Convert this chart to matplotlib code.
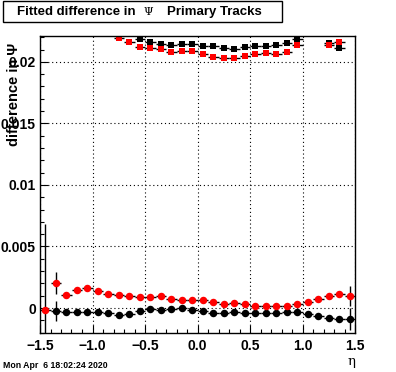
import matplotlib
matplotlib.use("Agg")
import matplotlib.pyplot as plt
import numpy as np
from matplotlib.patches import Rectangle
from matplotlib.ticker import MultipleLocator

# bin centres in eta
eta_all = [-1.45, -1.35, -1.25, -1.15, -1.05, -0.95, -0.85, -0.75, -0.65, -0.55,
           -0.45, -0.35, -0.25, -0.15, -0.05, 0.05, 0.15, 0.25, 0.35, 0.45,
           0.55, 0.65, 0.75, 0.85, 0.95, 1.05, 1.15, 1.25, 1.35, 1.45]

# bottom series (circles)
red_circ = [-0.00015, 0.0020, 0.00105, 0.00146, 0.00165, 0.00138, 0.00114, 0.00105, 0.00097, 0.00087,
            0.00087, 0.0010, 0.0007, 0.00065, 0.00065, 0.00065, 0.00046, 0.00032, 0.00043, 0.00032,
            0.00019, 0.00019, 0.00019, 0.00019, 0.0003, 0.0005, 0.00073, 0.00097, 0.00111, 0.00097]
red_circ_err = [0.007, 0.0009, 0.0001, 0.0001, 0.0001, 0.0001, 0.0001, 0.0001, 0.0001, 0.0001,
                0.0001, 0.0001, 0.0001, 0.0001, 0.0001, 0.0001, 0.0001, 0.0001, 0.0001, 0.0001,
                0.0001, 0.0001, 0.0001, 0.0001, 0.0001, 0.0001, 0.0001, 0.0001, 0.0001, 0.0008]

eta_blk = eta_all[1:]
blk_circ = [-0.00024, -0.0003, -0.00035, -0.00035, -0.0003, -0.00043, -0.00057, -0.00049, -0.00027,
            -0.00008, -0.00016, -0.00008, 0.0, -0.00016, -0.00027, -0.00038, -0.00038, -0.0003,
            -0.00038, -0.00038, -0.00038, -0.00038, -0.0003, -0.0003, -0.00051, -0.00068,
            -0.00084, -0.00092, -0.00092]
blk_circ_err = [0.0008, 0.0001, 0.0001, 0.0001, 0.0001, 0.0001, 0.0001, 0.0001, 0.0001,
                0.0001, 0.0001, 0.0001, 0.0001, 0.0001, 0.0001, 0.0001, 0.0001, 0.0001,
                0.0001, 0.0001, 0.0001, 0.0001, 0.0001, 0.0001, 0.0001, 0.0001,
                0.0001, 0.0001, 0.0009]

# top series (squares)
eta_red_sq = [-0.75, -0.65, -0.55, -0.45, -0.35, -0.25, -0.15, -0.05, 0.05, 0.15,
              0.25, 0.35, 0.45, 0.55, 0.65, 0.75, 0.85, 0.95, 1.25, 1.35]
red_sq = [0.02197, 0.02159, 0.02121, 0.0211, 0.02102, 0.02078, 0.02088, 0.02088, 0.02062, 0.02043,
          0.02033, 0.02032, 0.02048, 0.02067, 0.02072, 0.02064, 0.0208, 0.02137, 0.02135, 0.0216]

eta_blk_sq = [-0.55, -0.45, -0.35, -0.25, -0.15, -0.05, 0.05, 0.15, 0.25,
              0.35, 0.45, 0.55, 0.65, 0.75, 0.85, 0.95, 1.25, 1.35]
blk_sq = [0.02189, 0.0216, 0.02148, 0.02137, 0.02145, 0.02145, 0.0213, 0.0213, 0.02116,
          0.02105, 0.02124, 0.02132, 0.02132, 0.0214, 0.02153, 0.02186, 0.02156, 0.02113]

W, H = 396, 372
fig = plt.figure(figsize=(W / 100, H / 100), dpi=100)
ax = fig.add_axes([40 / W, 1 - 333 / H, 315 / W, 297 / H])

ekw = dict(fmt='s', ecolor='black', elinewidth=1, capsize=0, markeredgewidth=0)
ax.errorbar(eta_blk_sq, blk_sq, xerr=0.05, yerr=0.0001, color='black', markersize=4.8, **ekw)
ax.errorbar(eta_red_sq, red_sq, xerr=0.05, yerr=0.0001, color='#ff0000', markersize=4.8, **ekw)
ekw['fmt'] = 'o'
ax.errorbar(eta_blk, blk_circ, xerr=0.05, yerr=blk_circ_err, color='black', markersize=5.4, **ekw)
ax.errorbar(eta_all, red_circ, xerr=0.05, yerr=red_circ_err, color='#ff0000', markersize=5.4, **ekw)

ax.set_xlim(-1.5, 1.5)
ax.set_ylim(-0.00203, 0.0221)
ax.xaxis.set_major_locator(MultipleLocator(0.5))
ax.xaxis.set_minor_locator(MultipleLocator(0.1))
ax.yaxis.set_major_locator(MultipleLocator(0.005))
ax.yaxis.set_minor_locator(MultipleLocator(0.001))
ax.grid(True, which='major', color='black', linestyle=(0, (1, 2.5)), linewidth=0.8)
ax.tick_params(which='both', direction='in', top=False, right=False, width=0.8)
ax.tick_params(which='major', length=6)
ax.tick_params(which='minor', length=3)
ax.tick_params(axis='x', pad=4)
ax.tick_params(axis='y', pad=3)
for lab in ax.get_xticklabels():
    lab.set_fontfamily('Liberation Sans')
    lab.set_fontweight('bold')
    lab.set_fontsize(10)
ax.set_yticks([0, 0.005, 0.01, 0.015, 0.02])
ax.set_yticklabels(['0', '0.005', '0.01', '0.015', '0.02'], fontfamily='Liberation Sans',
                   fontweight='bold', fontsize=10)
for s in ax.spines.values():
    s.set_linewidth(1)

# title box
fig.patches.append(Rectangle((3 / W, 1 - 22 / H), 279 / W, 21 / H, transform=fig.transFigure,
                             fill=False, edgecolor='black', linewidth=1))
ty = 1 - 12 / H
fig.text(17 / W, ty, 'Fitted difference in', fontfamily='Liberation Sans', fontweight='bold',
         fontsize=9.5, va='center', ha='left')
fig.text(148 / W, ty, 'Ψ', fontfamily='DejaVu Serif', fontsize=8, va='center', ha='center')
fig.text(167 / W, ty, 'Primary Tracks', fontfamily='Liberation Sans', fontweight='bold',
         fontsize=9.5, va='center', ha='left')

# y label (overlaps the tick labels, as in the original)
fig.text(14 / W, 1 - 43 / H, 'difference in Ψ', fontfamily='Liberation Sans', fontweight='bold',
         fontsize=10.5, rotation=90, va='top', ha='center')

# x label
fig.text(352 / W, 1 - 362 / H, 'η', fontfamily='DejaVu Serif', fontsize=9.5, va='center', ha='center')

# date stamp
fig.text(3 / W, 1 - 365 / H, 'Mon Apr  6 18:02:24 2020', fontfamily='Liberation Sans',
         fontweight='bold', fontsize=6.3, va='center', ha='left')

fig.savefig('out.png', dpi=100)
